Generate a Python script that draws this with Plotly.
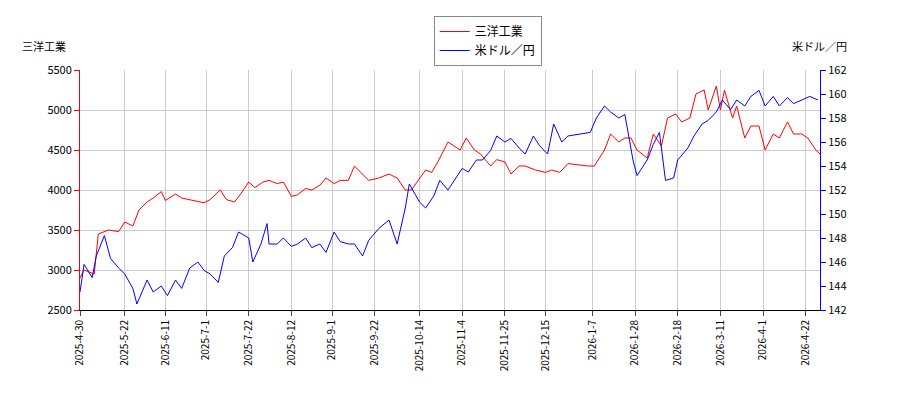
import plotly.graph_objects as go

red_dates = ["2025-04-30","2025-05-02","2025-05-07","2025-05-09","2025-05-14","2025-05-19","2025-05-22","2025-05-26","2025-05-29","2025-06-02","2025-06-05","2025-06-09","2025-06-11","2025-06-13","2025-06-16","2025-06-19","2025-06-24","2025-06-30","2025-07-03","2025-07-08","2025-07-11","2025-07-15","2025-07-18","2025-07-22","2025-07-25","2025-07-29","2025-08-01","2025-08-05","2025-08-08","2025-08-12","2025-08-15","2025-08-19","2025-08-22","2025-08-26","2025-08-29","2025-09-02","2025-09-05","2025-09-09","2025-09-12","2025-09-16","2025-09-19","2025-09-24","2025-09-29","2025-10-03","2025-10-07","2025-10-10","2025-10-14","2025-10-17","2025-10-20","2025-10-23","2025-10-28","2025-11-03","2025-11-06","2025-11-10","2025-11-13","2025-11-18","2025-11-21","2025-11-25","2025-11-28","2025-12-02","2025-12-05","2025-12-10","2025-12-15","2025-12-18","2025-12-22","2025-12-26","2026-01-05","2026-01-08","2026-01-13","2026-01-16","2026-01-20","2026-01-23","2026-01-26","2026-01-29","2026-02-03","2026-02-06","2026-02-10","2026-02-13","2026-02-17","2026-02-20","2026-02-24","2026-02-27","2026-03-03","2026-03-05","2026-03-09","2026-03-11","2026-03-13","2026-03-17","2026-03-19","2026-03-23","2026-03-26","2026-03-30","2026-04-02","2026-04-06","2026-04-09","2026-04-13","2026-04-16","2026-04-20","2026-04-23","2026-04-27","2026-04-29"]
red_vals = [2900,3000,2950,3450,3500,3480,3600,3550,3750,3850,3900,3980,3870,3900,3950,3900,3870,3840,3880,4000,3880,3850,3950,4100,4030,4100,4120,4080,4100,3920,3940,4020,4000,4060,4150,4080,4120,4120,4300,4200,4120,4150,4200,4150,4000,4000,4150,4250,4220,4350,4600,4500,4650,4500,4450,4300,4380,4350,4200,4300,4300,4250,4220,4250,4220,4330,4300,4300,4500,4700,4600,4650,4650,4500,4400,4700,4550,4900,4950,4850,4900,5200,5250,5000,5300,5000,5250,4900,5050,4650,4800,4800,4500,4700,4650,4850,4700,4700,4650,4500,4450]

blue_dates = ["2025-04-30","2025-05-02","2025-05-06","2025-05-08","2025-05-12","2025-05-15","2025-05-19","2025-05-22","2025-05-26","2025-05-28","2025-06-02","2025-06-05","2025-06-09","2025-06-12","2025-06-16","2025-06-19","2025-06-23","2025-06-27","2025-06-30","2025-07-03","2025-07-07","2025-07-10","2025-07-14","2025-07-17","2025-07-22","2025-07-24","2025-07-28","2025-07-31","2025-08-01","2025-08-05","2025-08-08","2025-08-12","2025-08-15","2025-08-19","2025-08-22","2025-08-26","2025-08-29","2025-09-02","2025-09-05","2025-09-09","2025-09-12","2025-09-16","2025-09-19","2025-09-24","2025-09-29","2025-10-03","2025-10-07","2025-10-09","2025-10-14","2025-10-17","2025-10-21","2025-10-24","2025-10-28","2025-11-04","2025-11-07","2025-11-11","2025-11-14","2025-11-18","2025-11-21","2025-11-25","2025-11-28","2025-12-02","2025-12-05","2025-12-09","2025-12-12","2025-12-16","2025-12-19","2025-12-23","2025-12-26","2026-01-06","2026-01-09","2026-01-13","2026-01-16","2026-01-20","2026-01-23","2026-01-27","2026-01-29","2026-02-03","2026-02-06","2026-02-09","2026-02-12","2026-02-16","2026-02-18","2026-02-23","2026-02-26","2026-03-02","2026-03-05","2026-03-09","2026-03-12","2026-03-16","2026-03-19","2026-03-23","2026-03-26","2026-03-30","2026-04-02","2026-04-06","2026-04-09","2026-04-13","2026-04-16","2026-04-20","2026-04-24","2026-04-28"]
blue_vals = [143.5,145.8,144.7,146.5,148.2,146.3,145.5,145.0,143.8,142.5,144.5,143.5,144.0,143.2,144.5,143.8,145.5,146.0,145.3,145.0,144.3,146.5,147.2,148.5,148.0,146.0,147.5,149.2,147.5,147.5,148.0,147.3,147.5,148.0,147.2,147.5,146.8,148.5,147.7,147.5,147.5,146.5,147.8,148.8,149.5,147.5,150.5,152.5,151.0,150.5,151.5,152.8,152.0,153.8,153.5,154.5,154.5,155.3,156.5,156.0,156.3,155.5,155.0,156.5,155.7,155.0,157.5,156.0,156.5,156.8,158.0,159.0,158.5,158.0,158.3,154.5,153.2,154.5,155.8,156.8,152.8,153.0,154.5,155.5,156.5,157.5,157.8,158.5,159.5,158.7,159.5,159.0,159.8,160.3,159.0,159.8,159.0,159.7,159.2,159.5,159.8,159.5]

tick_dates = ["2025-04-30","2025-05-22","2025-06-11","2025-07-01","2025-07-22","2025-08-12","2025-09-01","2025-09-22","2025-10-14","2025-11-04","2025-11-25","2025-12-15","2026-01-07","2026-01-28","2026-02-18","2026-03-11","2026-04-01","2026-04-22"]
tick_labels = ["2025-4-30","2025-5-22","2025-6-11","2025-7-1","2025-7-22","2025-8-12","2025-9-1","2025-9-22","2025-10-14","2025-11-4","2025-11-25","2025-12-15","2026-1-7","2026-1-28","2026-2-18","2026-3-11","2026-4-1","2026-4-22"]

fig = go.Figure()
fig.add_trace(go.Scatter(x=red_dates, y=red_vals, name="三洋工業", mode="lines", line=dict(color="red", width=1)))
fig.add_trace(go.Scatter(x=blue_dates, y=blue_vals, name="米ドル／円", mode="lines", line=dict(color="blue", width=1), yaxis="y2"))

fig.update_layout(
    width=900, height=400, plot_bgcolor="white", paper_bgcolor="white",
    margin=dict(l=72, r=88, t=62, b=98, autoexpand=False),
    font=dict(family="Noto Sans CJK JP", size=11, color="black"),
    xaxis=dict(range=["2025-04-30","2026-04-29"], tickvals=tick_dates, ticktext=tick_labels, tickangle=-90, automargin=False,
               showgrid=True, gridcolor="#cccccc", showline=True, linecolor="black", ticks="outside", tickfont=dict(size=10)),
    yaxis=dict(range=[2500,5500], dtick=500, showgrid=True, gridcolor="#cccccc", showline=True, linecolor="red", automargin=False,
               ticks="outside", tickcolor="red", tickfont=dict(size=11)),
    yaxis2=dict(range=[142,162], dtick=2, overlaying="y", side="right", showgrid=False, showline=True, linecolor="blue", automargin=False,
                ticks="outside", tickcolor="blue"),
    legend=dict(x=0.533, xref="container", y=0.98, yref="container", xanchor="center", yanchor="top",
                bordercolor="#888", borderwidth=1, font=dict(size=12)),
    annotations=[
        dict(text="三洋工業", x=0, y=1.1, xref="paper", yref="paper", xanchor="right", xshift=-12, yanchor="middle", showarrow=False, font=dict(size=11)),
        dict(text="米ドル／円", x=1, y=1.1, xref="paper", yref="paper", xanchor="left", xshift=-30, yanchor="middle", showarrow=False, font=dict(size=11)),
    ],
)
fig.write_html("out.html")
